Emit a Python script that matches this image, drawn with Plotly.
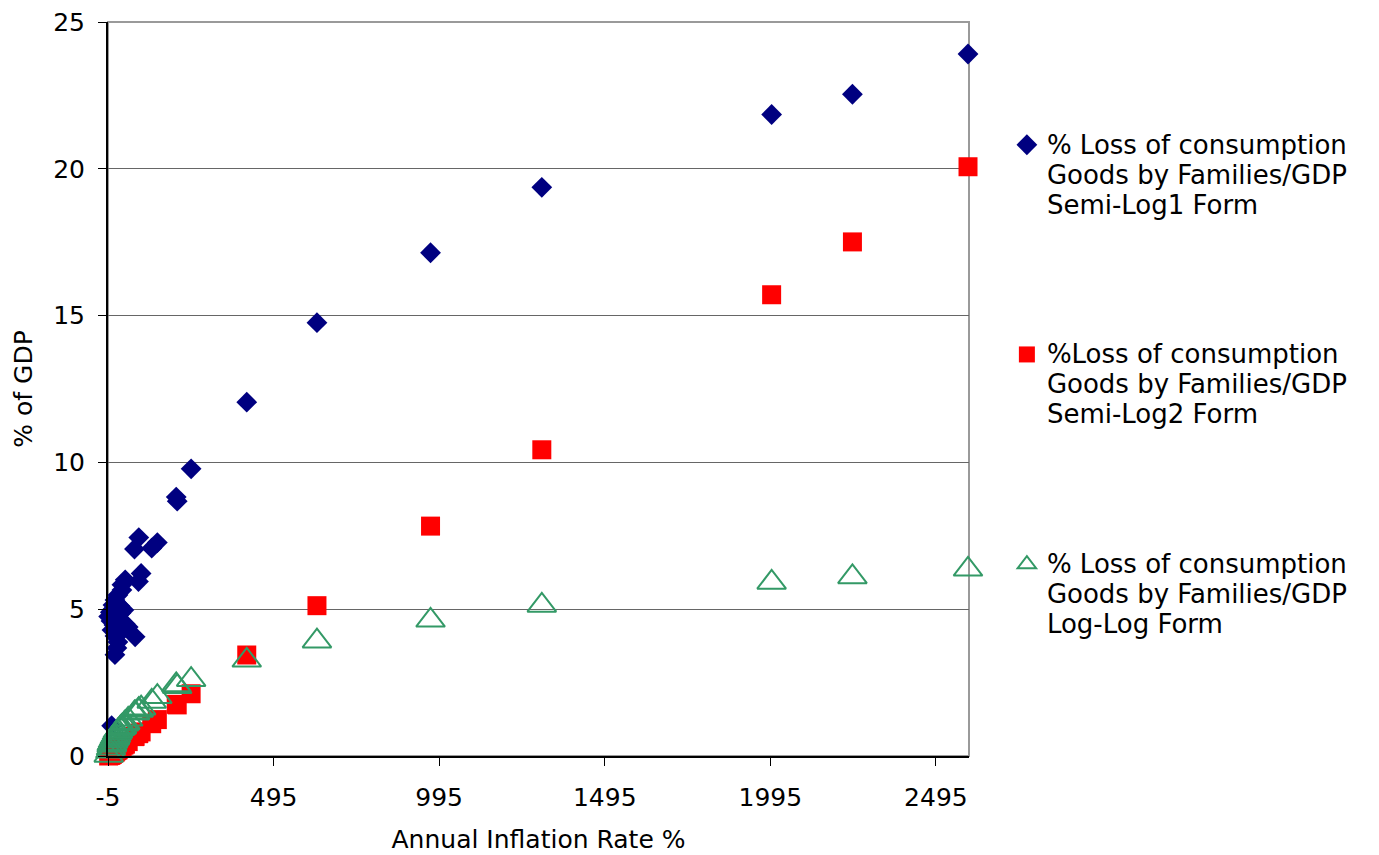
import plotly.graph_objects as go

# Annual inflation rate (%) for each observation
inflation = [2592, 2243, 1999, 1305, 969, 626, 414, 246, 201, 204,
             144, 127, 88, 75, 95, 87, 47, 37, 77, 16,
             6, 37, 25, 16, 10, 7, 10, 7, 19, 31,
             43, 34, 56, 22, 13, 7, 16, 25, 34, 47,
             2, 4, -3]

# % loss of consumption goods by families / GDP, semi-log 1 form
semi_log1 = [23.91, 22.54, 21.85, 19.37, 17.14, 14.76, 12.05, 9.78, 8.82, 8.68,
             7.27, 7.08, 7.44, 7.05, 6.22, 5.94, 6.00, 5.83, 4.06, 3.45,
             1.03, 5.65, 5.48, 5.31, 5.14, 4.97, 4.80, 4.63, 4.84, 5.11,
             4.97, 4.87, 4.39, 3.68, 4.46, 4.29, 4.09, 3.88, 4.22, 4.50,
             4.90, 4.60, 4.75]

# % loss of consumption goods by families / GDP, semi-log 2 form
semi_log2 = [20.07, 17.51, 15.71, 10.43, 7.83, 5.12, 3.44, 2.12, 1.76, 1.74,
             1.24, 1.10, 0.77, 0.66, 0.82, 0.76, 0.41, 0.32, 0.67, 0.14,
             0.05, 0.32, 0.22, 0.14, 0.09, 0.06, 0.09, 0.06, 0.17, 0.27,
             0.37, 0.30, 0.49, 0.19, 0.11, 0.06, 0.14, 0.21, 0.29, 0.41,
             0.02, 0.03, 0.00]

# % loss of consumption goods by families / GDP, log-log form
log_log = [6.36, 6.10, 5.91, 5.13, 4.62, 3.91, 3.26, 2.60, 2.42, 2.36,
           2.02, 1.86, 1.58, 1.46, 1.63, 1.55, 1.12, 1.00, 1.47, 0.62,
           0.36, 0.99, 0.84, 0.63, 0.50, 0.41, 0.51, 0.42, 0.70, 0.93,
           1.08, 0.97, 1.25, 0.78, 0.57, 0.40, 0.64, 0.85, 0.96, 1.13,
           0.16, 0.26, 0.02]

x_ticks = [-5, 495, 995, 1495, 1995, 2495]
y_ticks = [0, 5, 10, 15, 20, 25]

FONT = "DejaVu Sans"


def legend_label(lines):
    return "<br>".join('<span style="font-size:26px">%s</span>' % s for s in lines)


fig = go.Figure()

fig.add_trace(go.Scatter(
    x=inflation, y=semi_log1, mode="markers", cliponaxis=False,
    name=legend_label(["% Loss of consumption", "Goods by Families/GDP", "Semi-Log1 Form"]),
    legendgroup="g1",
    marker=dict(symbol="diamond", size=16, color="#000080"),
))
fig.add_trace(go.Scatter(
    x=inflation, y=semi_log2, mode="markers", cliponaxis=False,
    name=legend_label(["%Loss of consumption", "Goods by Families/GDP", "Semi-Log2 Form"]),
    legendgroup="g2",
    marker=dict(symbol="square", size=19, color="#FF0000"),
))
fig.add_trace(go.Scatter(
    x=inflation, y=log_log, mode="markers", cliponaxis=False,
    name=legend_label(["% Loss of consumption", "Goods by Families/GDP", "Log-Log Form"]),
    legendgroup="g3",
    marker=dict(symbol="triangle-up-open", size=25, color="#339966",
                line=dict(width=2, color="#339966")),
))

# plot-area frame
fig.add_shape(type="rect", xref="paper", yref="paper", x0=0, x1=1, y0=0, y1=1,
              line=dict(color="#9a9a9a", width=2), layer="below")

fig.update_layout(
    width=1379, height=855,
    margin=dict(l=108, r=410, t=22, b=99, autoexpand=False),
    paper_bgcolor="white", plot_bgcolor="white",
    font=dict(family=FONT, size=25, color="black"),
    showlegend=True,
    legend=dict(
        x=1.044, xanchor="left", y=0.862, yanchor="top",
        font=dict(family=FONT, size=23, color="black"),
        valign="top", traceorder="grouped", tracegroupgap=117,
        bgcolor="rgba(0,0,0,0)", borderwidth=0,
    ),
    xaxis=dict(
        range=[-5, 2595], tickmode="array", tickvals=x_ticks,
        ticktext=[str(v) for v in x_ticks],
        showgrid=False, zeroline=False,
        showline=True, linecolor="black", linewidth=1.5,
        ticks="outside", ticklen=8, tickcolor="black", tickwidth=1,
        tickfont=dict(family=FONT, size=25), ticklabelstandoff=10,
        title=dict(text="Annual Inflation Rate %", font=dict(family=FONT, size=25), standoff=20),
        automargin=False,
    ),
    yaxis=dict(
        range=[0, 25], tickmode="array", tickvals=y_ticks,
        ticktext=[str(v) for v in y_ticks],
        showgrid=True, gridcolor="#666666", gridwidth=1, zeroline=False,
        showline=True, linecolor="black", linewidth=2,
        ticks="outside", ticklen=8, tickcolor="black", tickwidth=1,
        tickfont=dict(family=FONT, size=25), ticklabelstandoff=8,
        title=dict(text="% of GDP", font=dict(family=FONT, size=25), standoff=13),
        automargin=False,
    ),
)

fig.write_html("out.html")
